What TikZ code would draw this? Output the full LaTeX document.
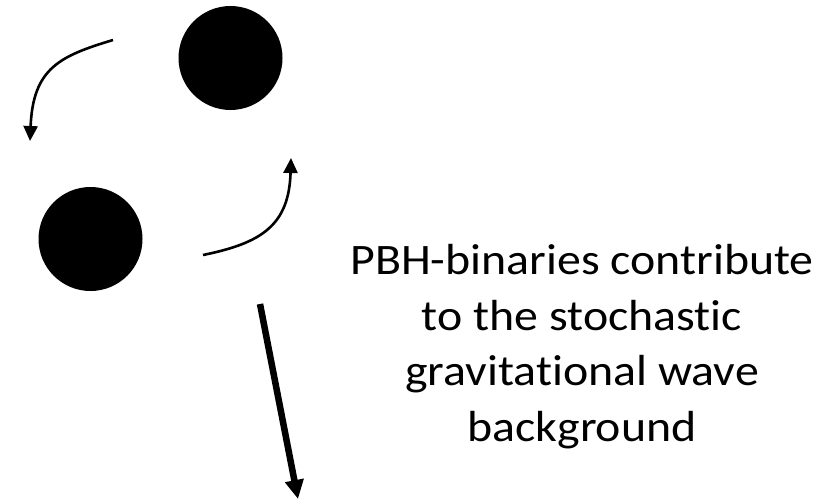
\documentclass[tikz,border=0pt]{standalone}
\usepackage{fontspec}
\setmainfont{Carlito}[FakeStretch=1.1, Ligatures={NoCommon}]
\usetikzlibrary{arrows.meta}
\tikzset{
  bh/.style={circle, fill=black, draw=none, minimum size=104pt, inner sep=0pt},
  thinarrow/.style={line width=2.6pt, -{Triangle[length=15pt,width=14pt]}},
  thickarrow/.style={line width=6.5pt, -{Triangle[length=19pt,width=18pt]}},
  caption/.style={align=center, font=\fontsize{43.5}{55.5}\selectfont, inner sep=0pt}
}
\begin{document}
\begin{tikzpicture}[x=1pt,y=-1pt]
\useasboundingbox (0,0) rectangle (824,503);
\node[bh] (bh1) at (230.5,58) {};
\node[bh] (bh2) at (90.5,239) {};
\coordinate (a1s) at (113,40);
\coordinate (a1e) at (30,141);
\coordinate (a2s) at (203,255);
\coordinate (a2e) at (291,158);
\coordinate (a3s) at (260,304);
\coordinate (a3e) at (298,499);
\draw[thinarrow] (a1s) .. controls (60,56) and (33,68) .. (a1e);
\draw[thinarrow] (a2s) .. controls (262,243) and (289,225) .. (a2e);
\draw[thickarrow] (a3s) -- (a3e);
\node[caption, anchor=base] (txt) at (582,441) {PBH-binaries contribute\\to the stochastic\\gravitational wave\\background};
\end{tikzpicture}
\end{document}
